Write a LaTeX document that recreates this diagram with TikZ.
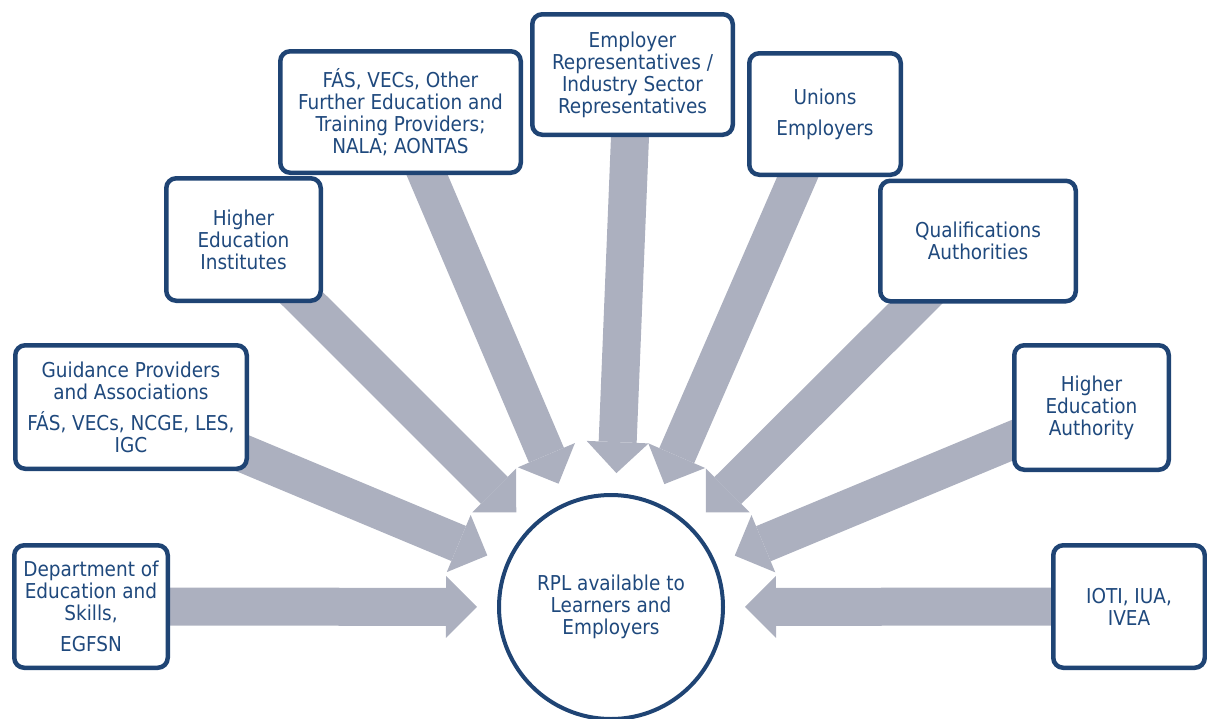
\documentclass[tikz,border=0pt]{standalone}
\usepackage{fontspec}
\setmainfont{DejaVu Sans Condensed}
\usetikzlibrary{arrows.meta}

\definecolor{navy}{RGB}{31,68,116}
\definecolor{inkblue}{RGB}{31,73,125}
\definecolor{shaftgray}{RGB}{172,176,191}

\pgfdeclarelayer{bg}
\pgfsetlayers{bg,main}

\tikzset{
  actor/.style={draw=navy, line width=4.5pt, rounded corners=10pt, fill=white,
    text=inkblue, align=center, inner sep=0pt,
    font=\fontsize{20.5}{22}\selectfont},
  hub/.style={circle, draw=navy, line width=4pt, fill=white, minimum size=224pt,
    text=inkblue, align=center, inner sep=0pt,
    font=\fontsize{20.5}{22}\selectfont},
  feed/.style={draw=shaftgray, line width=38pt,
    -{Triangle[width=62pt,length=31pt,line width=0pt]},
    shorten >=20pt, shorten <=-20pt}
}

\begin{document}
\begin{tikzpicture}[x=1pt,y=-1pt]
   \useasboundingbox (0,0) rectangle (1207,718);

   \node[hub] (rpl) at (611,607) {RPL available to\\Learners and\\Employers};

   \node[actor, minimum width=153.5pt, minimum height=122.5pt] (dept) at (91,606.5)
      {Department of\\Education and\\Skills,\\[9pt]EGFSN};
   \node[actor, minimum width=231.5pt, minimum height=123.5pt] (guid) at (131,407)
      {Guidance Providers\\and Associations\\[9pt]FÁS, VECs, NCGE, LES,\\IGC};
   \node[actor, minimum width=154.5pt, minimum height=122.5pt] (hei) at (243.5,239.5)
      {Higher\\Education\\Institutes};
   \node[actor, minimum width=240.5pt, minimum height=121.5pt] (fas) at (400.5,112)
      {FÁS, VECs, Other\\Further Education and\\Training Providers;\\NALA; AONTAS};
   \node[actor, minimum width=200.5pt, minimum height=120.5pt] (empl) at (632.5,74.5)
      {Employer\\Representatives /\\Industry Sector\\Representatives};
   \node[actor, minimum width=151.5pt, minimum height=121.5pt] (unio) at (825,114)
      {Unions\\[9pt]Employers};
   \node[actor, minimum width=195.5pt, minimum height=120.5pt] (qual) at (978,241)
      {Qualifications\\Authorities};
   \node[actor, minimum width=154.5pt, minimum height=124.5pt] (hea) at (1091.5,407.5)
      {Higher\\Education\\Authority};
   \node[actor, minimum width=151.5pt, minimum height=122.5pt] (ioti) at (1129,606.5)
      {IOTI, IUA,\\IVEA};

   % block arrows into the hub
   \begin{pgfonlayer}{bg}
   \path (dept) edge[feed] (rpl);
   \path (guid) edge[feed] (rpl);
   \path (hei)  edge[feed] (rpl);
   \path (fas)  edge[feed] (rpl);
   \path (empl) edge[feed] (rpl);
   \path (unio) edge[feed] (rpl);
   \path (qual) edge[feed] (rpl);
   \path (hea)  edge[feed] (rpl);
   \path (ioti) edge[feed] (rpl);
   \end{pgfonlayer}
\end{tikzpicture}
\end{document}
